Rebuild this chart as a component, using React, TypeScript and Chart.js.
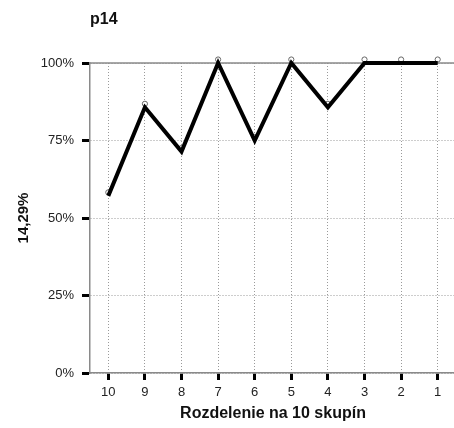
import React, { useEffect, useRef } from "react";
import { Chart, registerables } from "chart.js";

Chart.register(...registerables);

const chartTitle = "p14";
const yAxisTitle = "14,29%";
const xAxisTitle = "Rozdelenie na 10 skupín";
const categories = ["10", "9", "8", "7", "6", "5", "4", "3", "2", "1"];
const values = [57.14, 85.71, 71.43, 100, 75, 100, 85.71, 100, 100, 100];
const yTicks = [0, 25, 50, 75, 100];

const FONT = "'Liberation Sans', Arial, Helvetica, sans-serif";
const CW = 470;
const CH = 428;

export default function App() {
  const ref = useRef<HTMLCanvasElement | null>(null);

  useEffect(() => {
    if (!ref.current) return;
    const decor = {
      id: "decor",
      beforeDatasetsDraw(chart: any) {
        const { ctx, chartArea, scales } = chart;
        const y100 = scales.y.getPixelForValue(yTicks[yTicks.length - 1]);
        ctx.save();
        ctx.strokeStyle = "#8a8a8a";
        ctx.lineWidth = 1.5;
        ctx.beginPath();
        ctx.moveTo(chartArea.left, y100);
        ctx.lineTo(chart.width, y100);
        ctx.stroke();
        const meta = chart.getDatasetMeta(0);
        ctx.fillStyle = "#ffffff";
        ctx.strokeStyle = "#666666";
        ctx.lineWidth = 1;
        for (const p of meta.data) {
          ctx.beginPath();
          ctx.arc(p.x, p.y - 3.5, 2.6, 0, Math.PI * 2);
          ctx.fill();
          ctx.stroke();
        }
        ctx.restore();
      },
      afterDraw(chart: any) {
        const { ctx, chartArea } = chart;
        ctx.save();
        ctx.fillStyle = "#111";
        ctx.font = `bold 16px ${FONT}`;
        ctx.textAlign = "left";
        ctx.textBaseline = "alphabetic";
        ctx.fillText(chartTitle, chartArea.left, 23.5);
        ctx.restore();
      },
    };

    const chart = new Chart(ref.current, {
      type: "line",
      data: {
        labels: categories,
        datasets: [
          {
            data: values,
            borderColor: "#000",
            borderWidth: 4,
            pointRadius: 0,
            tension: 0,
            fill: false,
            clip: false as any,
          },
        ],
      },
      options: {
        animation: false,
        responsive: false,
        devicePixelRatio: 1,
        layout: { padding: { left: 0, right: CW - 456, top: 63, bottom: 0 } },
        plugins: {
          legend: { display: false },
          tooltip: { enabled: false },
          title: { display: false },
        },
        scales: {
          x: {
            type: "category",
            offset: true,
            afterFit(scale: any) {
              scale.height = 55;
            },
            grid: {
              offset: false,
              color: "#9a9a9a",
              lineWidth: 1,
              tickColor: "#000",
              tickWidth: 3,
              tickLength: 7,
              tickBorderDash: [],
            },
            border: { display: true, color: "#8a8a8a", width: 1.5, dash: [1, 2] },
            ticks: {
              color: "#222",
              font: { family: FONT, size: 13 },
              padding: 5,
              maxRotation: 0,
              autoSkip: false,
            },
            title: {
              display: true,
              text: xAxisTitle,
              color: "#111",
              font: { family: FONT, size: 16, weight: "bold" },
              padding: { top: 0, bottom: 5 },
            },
          },
          y: {
            min: 0,
            max: 100,
            afterFit(scale: any) {
              scale.width = 90;
            },
            afterBuildTicks(scale: any) {
              scale.ticks = yTicks.map((v) => ({ value: v }));
            },
            grid: {
              color: "#9a9a9a",
              lineWidth: 1,
              tickColor: "#000",
              tickWidth: 3,
              tickLength: 8,
              tickBorderDash: [],
            },
            border: { display: true, color: "#8a8a8a", width: 1.5, dash: [1, 2] },
            ticks: {
              color: "#222",
              font: { family: FONT, size: 13 },
              padding: 8,
              callback: (v: any) => `${v}%`,
            },
            title: {
              display: true,
              text: yAxisTitle,
              color: "#111",
              font: { family: FONT, size: 15, weight: "bold" },
              padding: { top: 15, bottom: 0 },
            },
          },
        },
      },
      plugins: [decor],
    } as any);
    return () => chart.destroy();
  }, []);

  return (
    <div
      style={{
        position: "fixed",
        left: 0,
        top: 0,
        width: 454,
        height: 428,
        overflow: "hidden",
        background: "#fff",
      }}
    >
      <canvas ref={ref} width={CW} height={CH} style={{ width: CW, height: CH, display: "block" }} />
    </div>
  );
}
